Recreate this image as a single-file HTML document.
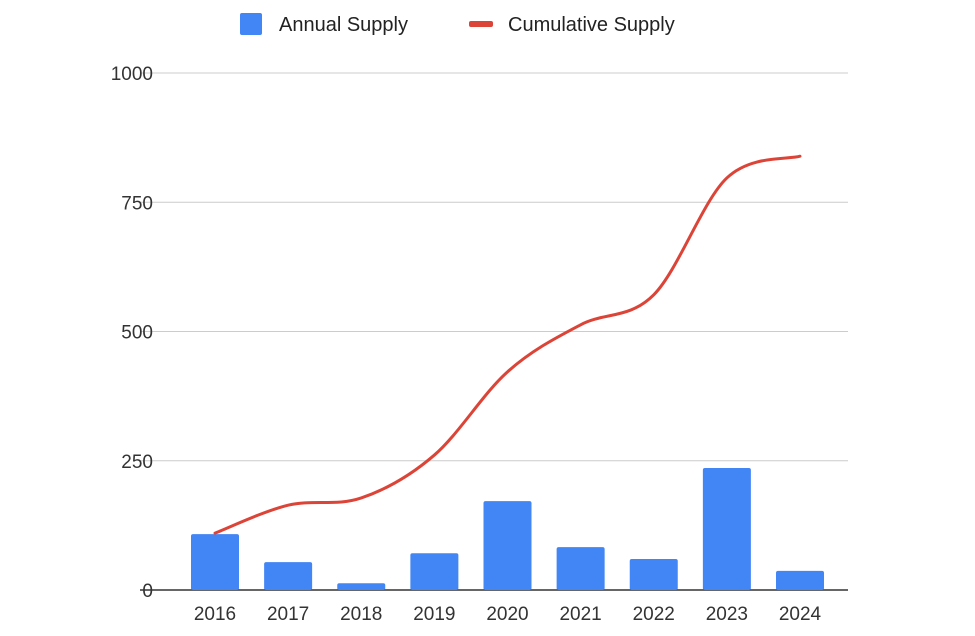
<!DOCTYPE html>
<html><head><meta charset="utf-8"><style>
body{margin:0;background:#fff;}
svg{display:block;font-family:"Liberation Sans",Arial,sans-serif;}
</style></head><body>
<svg id="chart" width="975" height="636">
<g>
<rect x="240" y="13" width="22" height="22" rx="2" fill="#4285f4"/>
<text x="279" y="31" font-size="20" fill="#222">Annual Supply</text>
<rect x="469" y="21" width="24" height="6" rx="2" fill="#db4437"/>
<text x="508" y="31" font-size="20" fill="#222">Cumulative Supply</text>
</g>
<g id="grid"></g><g id="bars"></g><g id="line"></g><g id="xlabels"></g>
</svg>
<script>
const categories=["2016","2017","2018","2019","2020","2021","2022","2023","2024"];
const annualSupply=[108,54,13,71,172,83,60,236,37];
const cumulativeSupply=[110,164,178,261,422,513,571,797,839];
const yTicks=[0,250,500,750,1000];
const NS="http://www.w3.org/2000/svg";
const y=v=>590-v*0.517;
const x=i=>215+i*73.125;
function mk(tag,attrs,parent){const e=document.createElementNS(NS,tag);for(const k in attrs)e.setAttribute(k,attrs[k]);parent.appendChild(e);return e;}
const grid=document.getElementById('grid');
yTicks.forEach(t=>{
  const l=mk('line',{x1:140,x2:848,y1:y(t),y2:y(t),stroke:t===0?'#333':'#ccc','stroke-width':t===0?1.5:1},grid);
  
  
  const tx=mk('text',{x:153,y:y(t)+7,'text-anchor':'end','font-size':19,fill:'#333'},grid);
  tx.textContent=t;
  
  
});
const bars=document.getElementById('bars'),xl=document.getElementById('xlabels');
categories.forEach((c,i)=>{
  const v=annualSupply[i];
  const r=mk('rect',{x:x(i)-24,y:y(v),width:48,height:590-y(v),rx:2,fill:'#4285f4'},bars);
  
  
  const t=mk('text',{x:x(i),y:620,'text-anchor':'middle','font-size':19,fill:'#333'},xl);
  t.textContent=c;
  
  
});
const pts=cumulativeSupply.map((v,i)=>[x(i),y(v)]);
let d='M'+pts[0][0]+','+pts[0][1];
for(let i=0;i<pts.length-1;i++){
  const p0=pts[Math.max(i-1,0)],p1=pts[i],p2=pts[i+1],p3=pts[Math.min(i+2,pts.length-1)];
  const c1=[p1[0]+(p2[0]-p0[0])/6,p1[1]+(p2[1]-p0[1])/6];
  const c2=[p2[0]-(p3[0]-p1[0])/6,p2[1]-(p3[1]-p1[1])/6];
  d+=` C${c1[0]},${c1[1]} ${c2[0]},${c2[1]} ${p2[0]},${p2[1]}`;
}
const path=mk('path',{d:d,fill:'none',stroke:'#db4437','stroke-width':3,'stroke-linecap':'round'},document.getElementById('line'));


</script>
</body></html>
